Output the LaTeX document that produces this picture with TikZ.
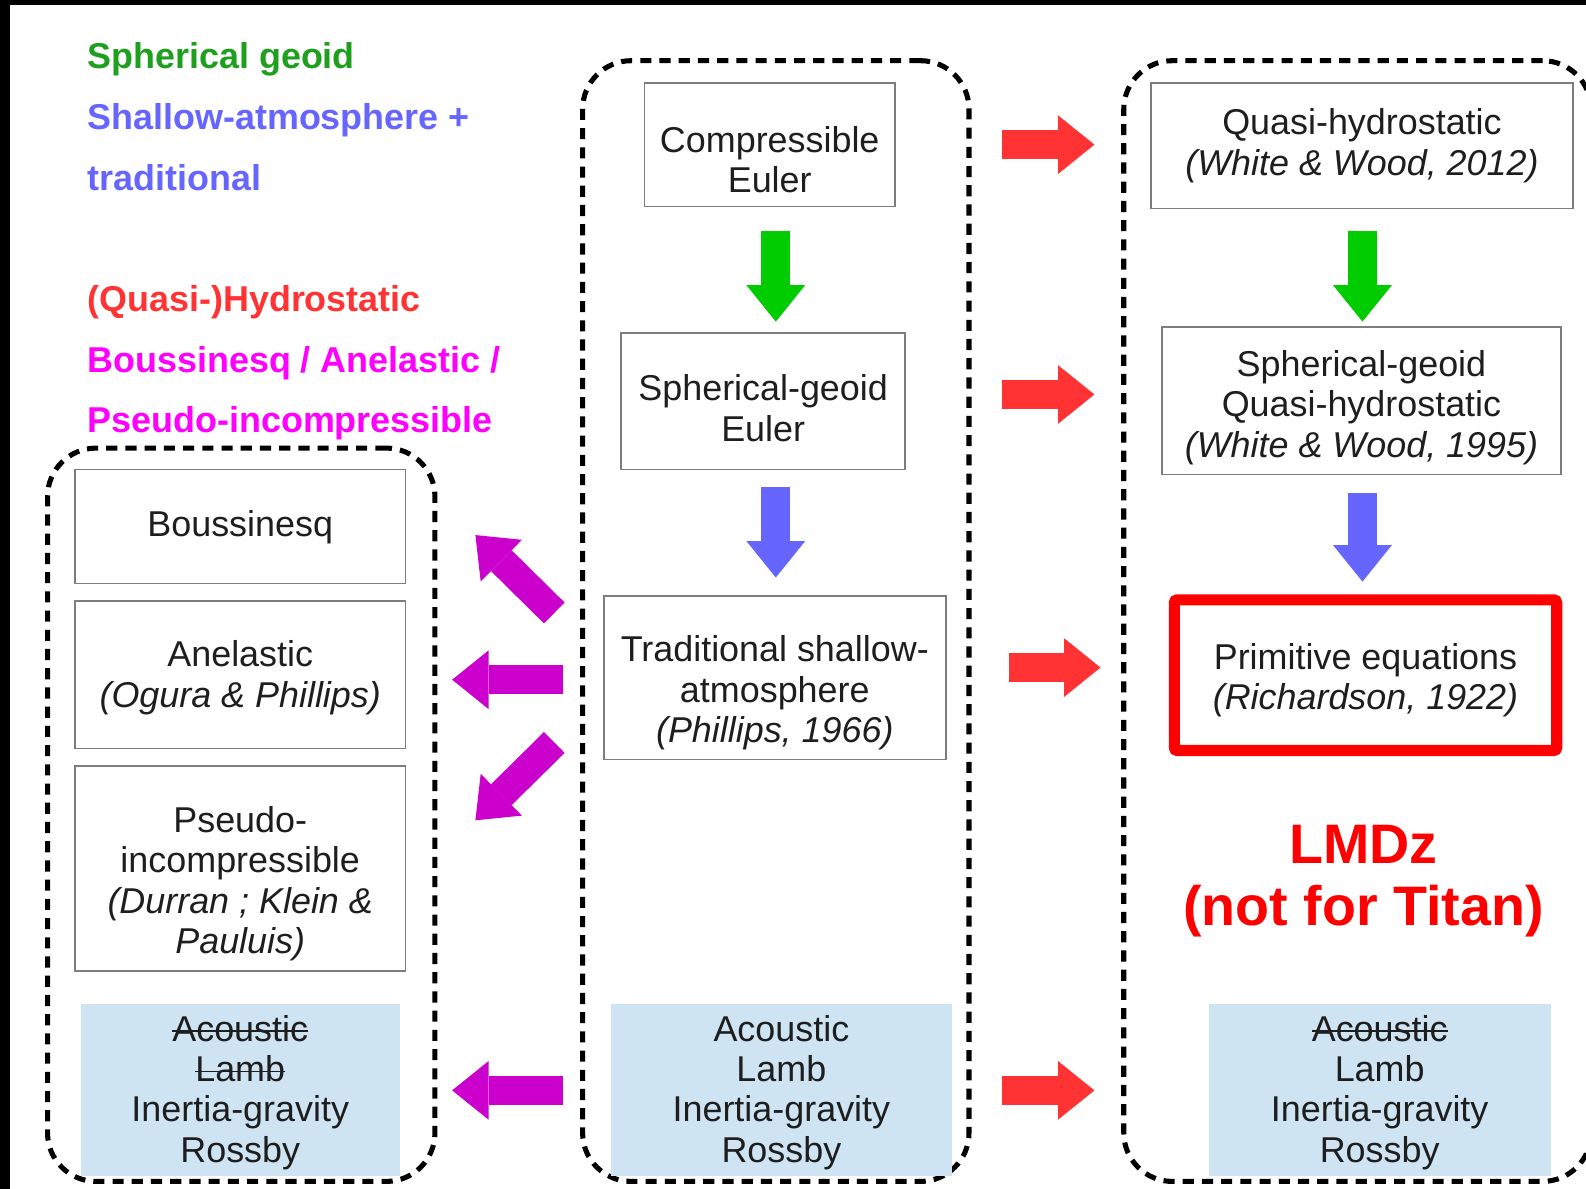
\documentclass[tikz,border=0pt]{standalone}
\usepackage{fontspec}
\setmainfont{Liberation Sans}
\usetikzlibrary{arrows.meta, positioning, calc}

\definecolor{legGreen}{RGB}{30,160,30}
\definecolor{legBlue}{RGB}{102,102,255}
\definecolor{legRed}{RGB}{255,51,51}
\definecolor{legMag}{RGB}{255,0,255}
\definecolor{arrGreen}{RGB}{0,204,0}
\definecolor{arrBlue}{RGB}{102,102,255}
\definecolor{arrRed}{RGB}{255,51,51}
\definecolor{arrMag}{RGB}{204,0,204}
\definecolor{waveBlue}{RGB}{207,228,242}
\definecolor{boxGray}{RGB}{125,125,125}
\definecolor{txtGray}{RGB}{30,30,30}

% struck-out word
\newcommand{\strikeword}[1]{\setbox0\hbox{#1}\rlap{\rule[0.26em]{\wd0}{1.6pt}}\box0}

\tikzset{
  grp/.style={draw=black, line width=5pt, dash pattern=on 11pt off 8pt,
    rounded corners=48pt, inner sep=0pt, outer sep=0pt},
  eqbox/.style={draw=boxGray, line width=1.6pt, inner sep=0pt, outer sep=0pt},
  wavebox/.style={fill=waveBlue, inner sep=0pt, outer sep=0pt,
    minimum width=337pt, minimum height=170pt},
  txt/.style={text=txtGray, align=center, font=\fontsize{35.5}{40}\selectfont},
  legend/.style={anchor=base west, font=\fontsize{35.5}{60}\selectfont\bfseries},
  blockarrow/.style={draw=#1, line width=29pt,
    -{Triangle[length=36pt, width=58pt, line width=0pt]}}
}

\begin{document}
\begin{tikzpicture}[x=1pt, y=-1pt]
\useasboundingbox (0,0) rectangle (1568,1175);
\fill[white] (0,0) rectangle (1568,1175);
\fill[black] (0,0) rectangle (1568,5);
\fill[black] (0,0) rectangle (10,1175);

% legend
\node[legend, text=legGreen] (leg1) at (83,68) {Spherical geoid};
\node[legend, text=legBlue] (leg2) at (83,128) {Shallow-atmosphere +};
\node[legend, text=legBlue] (leg3) at (83,188) {traditional};
\node[legend, text=legRed] (leg4) at (83,308) {(Quasi-)Hydrostatic};
\node[legend, text=legMag] (leg5) at (83,368) {Boussinesq / Anelastic /};
\node[legend, text=legMag] (leg6) at (83,428) {Pseudo-incompressible};

% dashed groups
\node[grp, minimum width=383pt, minimum height=725pt] (lgrp) at (238.5,805.5) {};
\node[grp, minimum width=382pt, minimum height=1108pt] (mgrp) at (767,614) {};
\node[grp, minimum width=462pt, minimum height=1108pt] (rgrp) at (1342,614) {};

% middle column
\node[eqbox, minimum width=248pt, minimum height=122pt] (ce) at (761,143) {};
\node[txt] (ce-t) at ([yshift=-15pt]ce.center) {Compressible\\Euler};
\node[eqbox, minimum width=281pt, minimum height=135pt] (sge) at (754.5,396.5) {};
\node[txt] (sge-t) at ([yshift=-7pt]sge.center) {Spherical-geoid\\Euler};
\node[eqbox, minimum width=338pt, minimum height=162pt] (trad) at (766,670) {};
\node[txt] (trad-t) at ([yshift=-15pt]trad.center) {Traditional shallow-\\atmosphere\\\textit{(Phillips, 1966)}};
\node[wavebox] (wm) at (772.5,1078) {};
\node[txt] (wm-t) at ([yshift=-2pt]wm.center) {Acoustic\\Lamb\\Inertia-gravity\\Rossby};

% right column
\node[eqbox, minimum width=417pt, minimum height=124pt] (qh) at (1346.5,144) {};
\node[txt] (qh-t) at (qh.center) {Quasi-hydrostatic\\\textit{(White \& Wood, 2012)}};
\node[eqbox, minimum width=394pt, minimum height=146pt] (sgqh) at (1346,396) {};
\node[txt] (sgqh-t) at ([yshift=-7pt]sgqh.center) {Spherical-geoid\\Quasi-hydrostatic\\\textit{(White \& Wood, 1995)}};
\node[draw=red, line width=11pt, rounded corners=3pt, inner sep=0pt, outer sep=0pt,
  minimum width=378pt, minimum height=149pt] (pe) at (1350,667.5) {};
\node[txt] (pe-t) at ([yshift=-5pt]pe.center) {Primitive equations\\\textit{(Richardson, 1922)}};
\node[text=red, align=center, font=\fontsize{55}{62}\selectfont\bfseries] (lmdz) at (1348,871) {LMDz\\(not for Titan)};
\node[wavebox, minimum width=338pt] (wr) at (1364,1078) {};
\node[txt] (wr-t) at ([yshift=-2pt]wr.center) {\strikeword{Acoustic}\\Lamb\\Inertia-gravity\\Rossby};

% left column
\node[eqbox, minimum width=327pt, minimum height=113pt] (bq) at (237.5,520.5) {};
\node[txt] (bq-t) at ([yshift=-1pt]bq.center) {Boussinesq};
\node[eqbox, minimum width=327pt, minimum height=146pt] (an) at (237.5,667) {};
\node[txt] (an-t) at ([yshift=-3pt]an.center) {Anelastic\\\textit{(Ogura \& Phillips)}};
\node[eqbox, minimum width=327pt, minimum height=203pt] (pi) at (237.5,858.5) {};
\node[txt] (pi-t) at ([yshift=-15pt]pi.center) {Pseudo-\\incompressible\\\textit{(Durran ; Klein \&}\\\textit{Pauluis)}};
\node[wavebox, minimum width=315pt] (wl) at (237.5,1078) {};
\node[txt] (wl-t) at ([yshift=-2pt]wl.center) {\strikeword{Acoustic}\\\strikeword{Lamb}\\Inertia-gravity\\Rossby};

% vertical arrows
\draw[blockarrow=arrGreen] ([shift={(6,24)}]ce.south) -- ([shift={(12.5,-11)}]sge.north);
\draw[blockarrow=arrBlue] ([shift={(12.5,17)}]sge.south) -- ([shift={(1,-18)}]trad.north);
\draw[blockarrow=arrGreen] ([shift={(0.5,22)}]qh.south) -- ([shift={(1,-5)}]sgqh.north);
\draw[blockarrow=arrBlue] ([shift={(1,18)}]sgqh.south) -- ([shift={(-3,-18)}]pe.north);

% to the right
\draw[blockarrow=arrRed] ([shift={(106,0)}]ce.east) -- ([shift={(-56,-1)}]qh.west);
\draw[blockarrow=arrRed] ([shift={(96,-6.5)}]sge.east) -- ([shift={(-67,-6)}]sgqh.west);
\draw[blockarrow=arrRed] ([shift={(63,-10)}]trad.east) -- ([shift={(-73,-7.5)}]pe.west);
\draw[blockarrow=arrRed] ([shift={(50,0)}]wm.east) -- ([shift={(-113,0)}]wr.west);

% to the left
\draw[blockarrow=arrMag] ([shift={(-49,-64)}]trad.west) -- ([shift={(69,8.5)}]bq.east);
\draw[blockarrow=arrMag] ([shift={(-40,2)}]trad.west) -- ([shift={(46,5)}]an.east);
\draw[blockarrow=arrMag] ([shift={(-49,64)}]trad.west) -- ([shift={(69,-47.5)}]pi.east);
\draw[blockarrow=arrMag] ([shift={(-47,0)}]wm.west) -- ([shift={(52,0)}]wl.east);
\end{tikzpicture}
\end{document}
